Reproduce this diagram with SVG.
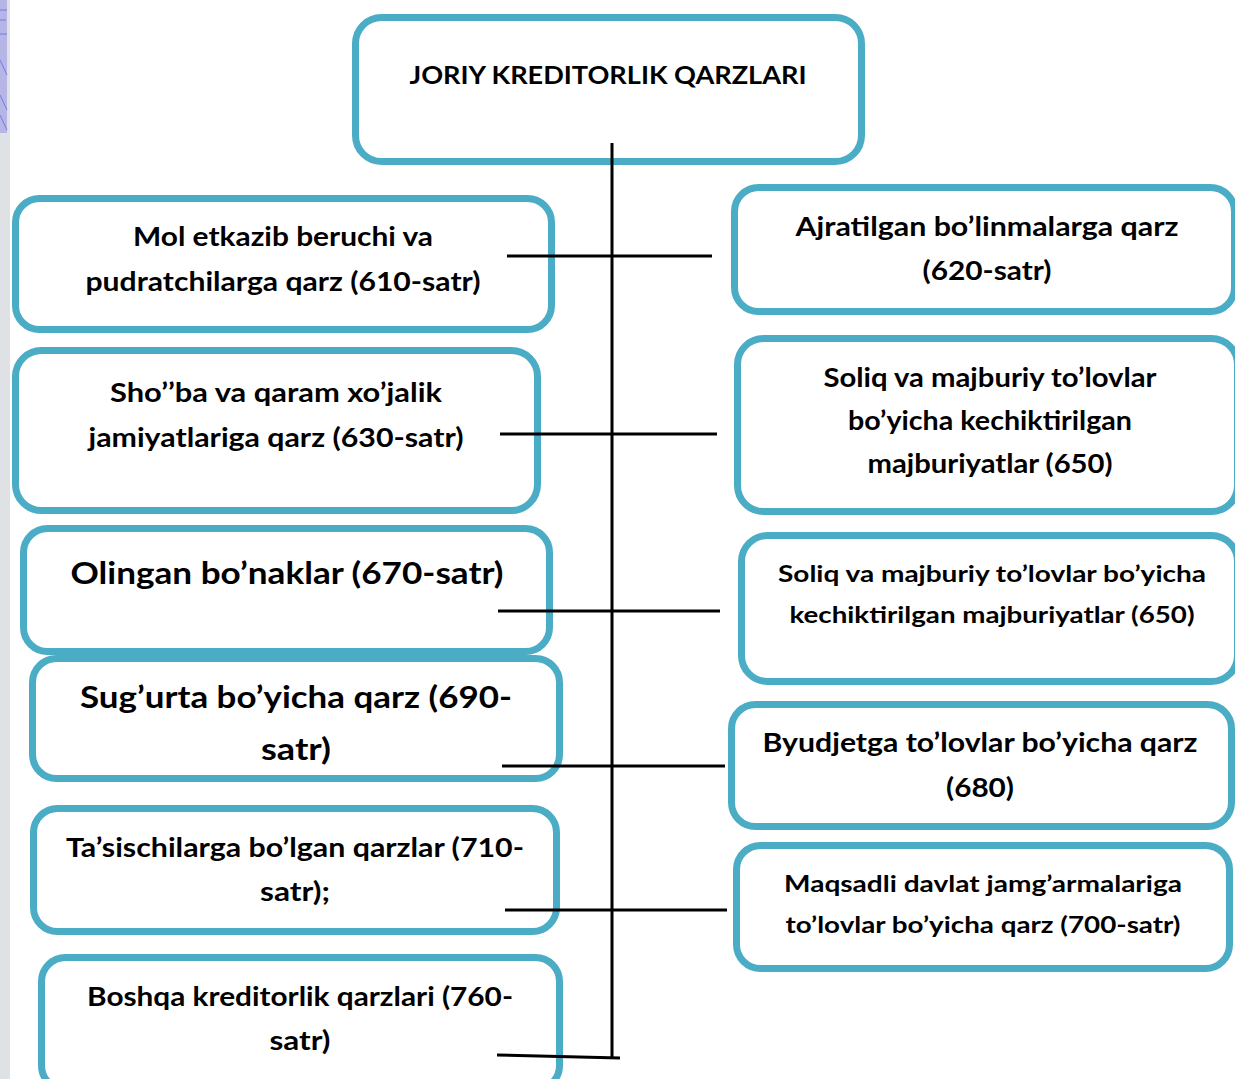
<svg xmlns="http://www.w3.org/2000/svg" width="1235" height="1079" viewBox="0 0 1235 1079">
<style>
.box{fill:#fff;stroke:#4BACC6;stroke-width:7}
.t{font-family:Lato,"Open Sans","Liberation Sans",sans-serif;font-weight:bold;fill:#000;text-anchor:middle}
.n{font-size:26px}
.s{font-size:23px}
.b{font-size:30px}
.h{font-size:25px}
.c{stroke:#000;stroke-width:3;fill:none}
</style>
<rect x="0" y="0" width="10" height="1079" fill="#dfe2e5"/>
<rect x="0" y="0" width="7" height="133" fill="#b7b4e6"/>
<g stroke="#6f7fe0" stroke-width="1" fill="none">
<path d="M0 10H7M0 20H6M0 34H7M0 60L7 75M0 95L7 110M0 115L7 130"/>
</g>
<g id="root">
<rect class="box" x="355.5" y="17.5" width="506" height="144" rx="26"/>
<text class="t h" x="608" y="84" textLength="397" lengthAdjust="spacingAndGlyphs">JORIY KREDITORLIK QARZLARI</text>
</g>
<g id="n610">
<rect class="box" x="15.5" y="198.5" width="536" height="131" rx="24"/>
<text class="t n" x="283" y="246" textLength="300" lengthAdjust="spacingAndGlyphs">Mol etkazib beruchi va</text>
<text class="t n" x="283" y="291" textLength="395" lengthAdjust="spacingAndGlyphs">pudratchilarga qarz (610-satr)</text>
</g>
<g id="n620">
<rect class="box" x="734.5" y="187.5" width="500" height="124" rx="24"/>
<text class="t n" x="987" y="236" textLength="383" lengthAdjust="spacingAndGlyphs">Ajratilgan bo’linmalarga qarz</text>
<text class="t n" x="987" y="280" textLength="129" lengthAdjust="spacingAndGlyphs">(620-satr)</text>
</g>
<g id="n630">
<rect class="box" x="15.5" y="350.5" width="522" height="160" rx="26"/>
<text class="t n" x="276" y="402" textLength="332" lengthAdjust="spacingAndGlyphs">Sho’’ba va qaram xo’jalik</text>
<text class="t n" x="276" y="447" textLength="375" lengthAdjust="spacingAndGlyphs">jamiyatlariga qarz (630-satr)</text>
</g>
<g id="n650a">
<rect class="box" x="737.5" y="338.5" width="500" height="173" rx="26"/>
<text class="t n" x="990" y="387" textLength="333" lengthAdjust="spacingAndGlyphs">Soliq va majburiy to’lovlar</text>
<text class="t n" x="990" y="430" textLength="284" lengthAdjust="spacingAndGlyphs">bo’yicha kechiktirilgan</text>
<text class="t n" x="990" y="473" textLength="245" lengthAdjust="spacingAndGlyphs">majburiyatlar (650)</text>
</g>
<g id="n670">
<rect class="box" x="23.5" y="528.5" width="526" height="123" rx="24"/>
<text class="t b" x="287" y="584" textLength="433" lengthAdjust="spacingAndGlyphs">Olingan bo’naklar (670-satr)</text>
</g>
<g id="n650b">
<rect class="box" x="741.5" y="535.5" width="496" height="146" rx="26"/>
<text class="t s" x="992" y="582" textLength="428" lengthAdjust="spacingAndGlyphs">Soliq va majburiy to’lovlar bo’yicha</text>
<text class="t s" x="992" y="623" textLength="405" lengthAdjust="spacingAndGlyphs">kechiktirilgan majburiyatlar (650)</text>
</g>
<g id="n690">
<rect class="box" x="32.5" y="658.5" width="527" height="120" rx="24"/>
<text class="t b" x="296" y="708" textLength="432" lengthAdjust="spacingAndGlyphs">Sug’urta bo’yicha qarz (690-</text>
<text class="t b" x="296" y="760" textLength="70" lengthAdjust="spacingAndGlyphs">satr)</text>
</g>
<g id="n680">
<rect class="box" x="731.5" y="704.5" width="500" height="122" rx="24"/>
<text class="t n" x="980" y="752" textLength="435" lengthAdjust="spacingAndGlyphs">Byudjetga to’lovlar bo’yicha qarz</text>
<text class="t n" x="980" y="797" textLength="68" lengthAdjust="spacingAndGlyphs">(680)</text>
</g>
<g id="n710">
<rect class="box" x="33.5" y="808.5" width="523" height="123" rx="24"/>
<text class="t n" x="295" y="857" textLength="458" lengthAdjust="spacingAndGlyphs">Ta’sischilarga bo’lgan qarzlar (710-</text>
<text class="t n" x="295" y="901" textLength="70" lengthAdjust="spacingAndGlyphs">satr);</text>
</g>
<g id="n700">
<rect class="box" x="736.5" y="845.5" width="493" height="123" rx="24"/>
<text class="t s" x="983" y="892" textLength="398" lengthAdjust="spacingAndGlyphs">Maqsadli davlat jamg’armalariga</text>
<text class="t s" x="983" y="933" textLength="395" lengthAdjust="spacingAndGlyphs">to’lovlar bo’yicha qarz (700-satr)</text>
</g>
<g id="n760">
<rect class="box" x="41.5" y="957.5" width="518" height="132" rx="24"/>
<text class="t n" x="300" y="1006" textLength="426" lengthAdjust="spacingAndGlyphs">Boshqa kreditorlik qarzlari (760-</text>
<text class="t n" x="300" y="1050" textLength="61" lengthAdjust="spacingAndGlyphs">satr)</text>
</g>
<g id="connectors" class="c">
<line x1="612" y1="143" x2="612" y2="1058"/>
<line x1="507" y1="256" x2="712" y2="256"/>
<line x1="500" y1="434" x2="717" y2="434"/>
<line x1="498" y1="611" x2="720" y2="611"/>
<line x1="502" y1="766" x2="725" y2="766"/>
<line x1="505" y1="910" x2="727" y2="910"/>
<line x1="497" y1="1055" x2="620" y2="1058"/>
</g>
</svg>
